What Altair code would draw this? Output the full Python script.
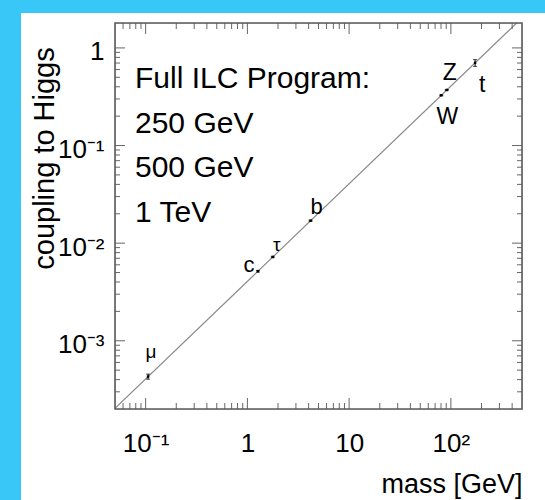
import altair as alt
import pandas as pd

# Measured particles: mass [GeV] and coupling to the Higgs boson
particles = ["μ", "c", "τ", "b", "W", "Z", "t"]
masses = [0.1057, 1.27, 1.777, 4.18, 80.4, 91.19, 173.0]
couplings = [0.00043, 0.00516, 0.00722, 0.0170, 0.327, 0.371, 0.703]
rel_errors = [0.06, 0.02, 0.015, 0.012, 0.01, 0.01, 0.08]

# Standard Model expectation (coupling proportional to mass)
line_mass = [0.05, 500.0]
line_coupling = [0.000203, 2.03]

# Axis ticks and labels
x_major = [0.1, 1, 10, 100]
x_major_labels = ["10⁻¹", "1", "10", "10²"]
y_major = [0.001, 0.01, 0.1, 1]
y_major_labels = ["10⁻³", "10⁻²", "10⁻¹", "1"]
x_minor = [0.06, 0.07, 0.08, 0.09,
           0.2, 0.3, 0.4, 0.5, 0.6, 0.7, 0.8, 0.9,
           2, 3, 4, 5, 6, 7, 8, 9,
           20, 30, 40, 50, 60, 70, 80, 90,
           200, 300, 400]
y_minor = [0.0003, 0.0004, 0.0005, 0.0006, 0.0007, 0.0008, 0.0009,
           0.002, 0.003, 0.004, 0.005, 0.006, 0.007, 0.008, 0.009,
           0.02, 0.03, 0.04, 0.05, 0.06, 0.07, 0.08, 0.09,
           0.2, 0.3, 0.4, 0.5, 0.6, 0.7, 0.8, 0.9]

program_lines = ["Full ILC Program:", "250 GeV", "500 GeV", "1 TeV"]

W, H = 407, 386
FONT = "Liberation Sans"
CYAN = "#38C7F7"

xscale = alt.Scale(type="log", domain=[0.05, 500])
yscale = alt.Scale(type="log", domain=[0.0002, 1.8])

pts = pd.DataFrame({
    "name": particles,
    "mass": masses,
    "coupling": couplings,
    "lo": [c * (1 - e) for c, e in zip(couplings, rel_errors)],
    "hi": [c * (1 + e) for c, e in zip(couplings, rel_errors)],
})
line_df = pd.DataFrame({"mass": line_mass, "coupling": line_coupling})


def js_list(vals):
    return "[" + ",".join(repr(v) if not isinstance(v, str) else "'" + v + "'" for v in vals) + "]"


x_label_expr = f"{js_list(x_major_labels)}[indexof({js_list(x_major)}, datum.value)]"
y_label_expr = f"{js_list(y_major_labels)}[indexof({js_list(y_major)}, datum.value)]"

x_axis = alt.Axis(
    values=x_major, labelExpr=x_label_expr, ticks=False, domain=False, grid=False,
    labelFont=FONT, labelFontSize=26, labelColor="black", labelPadding=21,
    title="mass [GeV]", titleFont=FONT, titleFontSize=27, titleFontWeight="normal",
    titleColor="black", titleX=W, titleY=83, titleAlign="right",
    titleBaseline="alphabetic", titleAnchor="end", zindex=1,
)
y_axis = alt.Axis(
    values=y_major, labelExpr=y_label_expr, ticks=False, domain=False, grid=False,
    labelFont=FONT, labelFontSize=26, labelColor="black", labelPadding=11,
    labelOffset=4, labelBaseline="middle",
    title="coupling to Higgs", titleFont=FONT, titleFontSize=29,
    titleFontWeight="normal", titleColor="black", titleX=-62, titleY=135,
    titleAlign="center", titleBaseline="alphabetic", titleAngle=270, zindex=1,
)


def X(field):
    return alt.X(field, scale=xscale, axis=x_axis)


def Y(field):
    return alt.Y(field, scale=yscale, axis=y_axis)


# Diagonal expectation line
diag = alt.Chart(line_df).mark_line(color="#8a8a8a", strokeWidth=1.2, clip=True).encode(
    x=X("mass:Q"), y=Y("coupling:Q"),
)

# Error bars, caps and points
bars = alt.Chart(pts).mark_rule(color="black", strokeWidth=1).encode(
    x=X("mass:Q"), y=Y("lo:Q"), y2="hi:Q",
)
cap_lo = alt.Chart(pts).mark_tick(color="black", orient="horizontal", size=4, thickness=1).encode(
    x=X("mass:Q"), y=Y("lo:Q"),
)
cap_hi = alt.Chart(pts).mark_tick(color="black", orient="horizontal", size=4, thickness=1).encode(
    x=X("mass:Q"), y=Y("hi:Q"),
)
dots = alt.Chart(pts).mark_square(color="black", size=6, opacity=1).encode(
    x=X("mass:Q"), y=Y("coupling:Q"),
)

# Particle labels, each nudged off its point
label_style = {
    "μ": dict(dx=3, dy=-25, fontSize=19),
    "c": dict(dx=-9, dy=-6, fontSize=22),
    "τ": dict(dx=4, dy=-12, fontSize=19),
    "b": dict(dx=6, dy=-14, fontSize=22),
    "W": dict(dx=6, dy=22, fontSize=23),
    "Z": dict(dx=3, dy=-17, fontSize=23),
    "t": dict(dx=7, dy=22, fontSize=23),
}
labels = []
for name in particles:
    labels.append(
        alt.Chart(pts).transform_filter(alt.datum.name == name)
        .mark_text(font=FONT, color="black", align="center", baseline="middle", **label_style[name])
        .encode(x=X("mass:Q"), y=Y("coupling:Q"), text="name:N")
    )

# Inward ticks on all four sides of the frame
one = alt.Data(values=[{}])


def x_ticks(vals, length):
    df = pd.DataFrame({"v": vals})
    bottom = alt.Chart(df).mark_rule(color="#666", strokeWidth=1).encode(
        x=X("v:Q"), y=alt.value(H), y2=alt.value(H - length))
    top = alt.Chart(df).mark_rule(color="#666", strokeWidth=1).encode(
        x=X("v:Q"), y=alt.value(0), y2=alt.value(length))
    return [bottom, top]


def y_ticks(vals, length):
    df = pd.DataFrame({"v": vals})
    left = alt.Chart(df).mark_rule(color="#666", strokeWidth=1).encode(
        y=Y("v:Q"), x=alt.value(0), x2=alt.value(length))
    right = alt.Chart(df).mark_rule(color="#666", strokeWidth=1).encode(
        y=Y("v:Q"), x=alt.value(W), x2=alt.value(W - length))
    return [left, right]


ticks = x_ticks(x_major, 11) + x_ticks(x_minor, 6) + y_ticks(y_major, 10) + y_ticks(y_minor, 5)

frame = alt.Chart(one).mark_rect(filled=False, stroke="#5a5a5a", strokeWidth=1.6).encode(
    x=alt.value(0), x2=alt.value(W), y=alt.value(0), y2=alt.value(H))

# Program text block
text_layers = []
for i, line in enumerate(program_lines):
    text_layers.append(
        alt.Chart(one).mark_text(font=FONT, fontSize=30, color="black", align="left",
                                 baseline="alphabetic", text=line)
        .encode(x=alt.value(20), y=alt.value(65 + i * 44.7))
    )

# Cyan border strips along the left and top edges
strip_left = alt.Chart(one).mark_rect(color=CYAN).encode(
    x=alt.value(-115), x2=alt.value(-94), y=alt.value(-23), y2=alt.value(H + 91))
strip_top = alt.Chart(one).mark_rect(color=CYAN).encode(
    x=alt.value(-115), x2=alt.value(W + 23), y=alt.value(-23), y2=alt.value(-10))

chart = alt.layer(
    diag, *ticks, bars, cap_lo, cap_hi, dots, *labels, frame, *text_layers,
    strip_left, strip_top,
).properties(
    width=W, height=H,
    padding={"left": 115, "top": 23, "right": 23, "bottom": 91},
    autosize=alt.AutoSizeParams(type="none"),
).configure_view(strokeWidth=0).configure(background="white")

chart.save("out.html", embed_options={"renderer": "svg", "actions": False})
